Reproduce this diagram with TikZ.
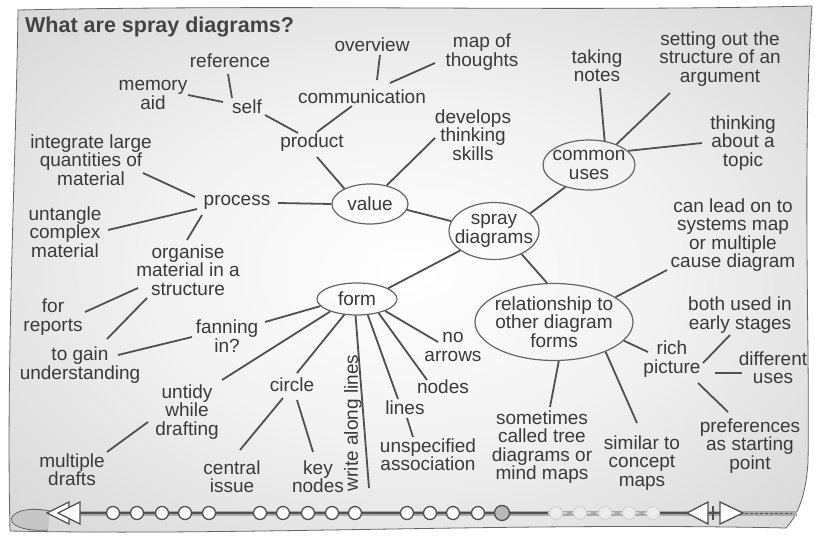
\documentclass[tikz,border=0pt]{standalone}
\usepackage{fontspec}
\setmainfont{Liberation Sans}
\usetikzlibrary{shapes.geometric}

\definecolor{ink}{HTML}{3A3A3A}
\definecolor{wire}{HTML}{505050}
\definecolor{rim}{HTML}{666666}
\definecolor{sheetmid}{HTML}{F2F2F2}
\definecolor{sheetout}{HTML}{CDCDCD}
\definecolor{sheetrim}{HTML}{B2B2B2}
\definecolor{barhalo}{HTML}{A9A9A9}
\definecolor{fadefill}{HTML}{ECECEC}
\definecolor{fadeline}{HTML}{D2D2D2}

% paper: white in the middle, greying towards the rim
\pgfdeclareradialshading{sheetshade}{\pgfpoint{0bp}{0bp}}{color(0bp)=(white); color(16bp)=(sheetmid); color(42bp)=(sheetout); color(58bp)=(sheetrim); color(75bp)=(sheetrim)}

\tikzset{
  lbl/.style={font=\fontsize{19}{18.3}\selectfont, text=ink, align=center, inner sep=1pt},
  bubble/.style={lbl, ellipse, draw=rim, line width=1.2pt, inner ysep=0pt},
  link/.style={draw=wire, line width=1.8pt},
  headline/.style={font=\fontsize{21.5}{24}\selectfont\bfseries, text=ink!95!white, inner sep=0pt},
  bead/.style={circle, draw=wire, line width=1.3pt, fill=white, minimum size=13pt, inner sep=0pt},
  fadebead/.style={circle, draw=fadeline, line width=1pt, fill=fadefill, minimum size=13pt, inner sep=0pt},
  tri/.style={draw=wire, line width=1.3pt, fill=white, line join=miter}
}

\begin{document}
\begin{tikzpicture}[x=1pt, y=-1pt]
\useasboundingbox (0,0) rectangle (815,540);

% the sheet of paper
\shade[shading=sheetshade, draw=rim, line width=0.8pt]
  (18,10) .. controls (300,4) and (560,12) .. (812,6)
  .. controls (802,150) and (810,350) .. (808,462)
  .. controls (806,495) and (798,515) .. (786,528)
  .. controls (520,522) and (240,536) .. (10,531)
  .. controls (6,360) and (16,160) .. (18,10) -- cycle;
% curl at the lower left corner
\draw[rim, fill=gray!45, line width=0.8pt]
  (50,511) .. controls (26,506) and (8,513) .. (12,522)
  .. controls (17,530) and (38,531) .. (48,530);

\node[headline, anchor=base west] (title) at (25,33) {What are spray diagrams?};

% ---- nodes ----
\node[lbl] (reference) at (230,61) {reference};
\node[lbl] (memory) at (153,95) {memory\\aid};
\node[lbl] (self) at (247,107) {self};
\node[lbl] (overview) at (372,45) {overview};
\node[lbl] (communication) at (362,97) {communication};
\node[lbl] (mapof) at (482,52) {map of\\thoughts};
\node[lbl] (product) at (312,143) {product};
\node[lbl] (develops) at (473,135) {develops\\thinking\\skills};
\node[lbl] (taking) at (597,66) {taking\\notes};
\node[lbl] (setting) at (720,59) {setting out the\\structure of an\\argument};
\node[bubble, minimum width=92pt, minimum height=50pt, inner xsep=-6pt] (common) at (589,165) {common\\uses};
\node[lbl] (thinking) at (743,143) {thinking\\about a\\topic};
\node[lbl] (integrate) at (91,160) {integrate large\\quantities of\\material};
\node[lbl] (process) at (237,202) {process};
\node[bubble, minimum width=76pt, minimum height=40pt] (value) at (370,204) {value};
\node[lbl] (untangle) at (65,232) {untangle\\complex\\material};
\node[bubble, minimum width=90pt, minimum height=57pt, inner xsep=-8pt] (spray) at (494,231) {spray\\diagrams};
\node[lbl] (organise) at (188,270) {organise\\material in a\\structure};
\node[lbl] (canlead) at (733,235) {can lead on to\\systems map\\or multiple\\cause diagram};
\node[bubble, minimum width=80pt, minimum height=32pt] (form) at (357,299) {form};
\node[lbl] (reports) at (53,317) {for\\reports};
\node[lbl] (fanning) at (227,336) {fanning\\in?};
\node[bubble, minimum width=158pt, minimum height=77pt, inner xsep=-5pt] (relation) at (554,322) {relationship to\\other diagram\\forms};
\node[lbl] (both) at (740,315) {both used in\\early stages};
\node[lbl] (noarrows) at (453,347) {no\\arrows};
\node[lbl] (rich) at (672,359) {rich\\picture};
\node[lbl] (gain) at (80,365) {to gain\\understanding};
\node[lbl] (different) at (773,368) {different\\uses};
\node[lbl] (nCircle) at (292,385) {circle};
\node[lbl] (nNodes) at (443,387) {nodes};
\node[lbl] (untidy) at (187,412) {untidy\\while\\drafting};
\node[lbl] (nLines) at (405,408) {lines};
\node[lbl, rotate=90] (write) at (353,423) {write along lines};
\node[lbl] (sometimes) at (542,447) {sometimes\\called tree\\diagrams or\\mind maps};
\node[lbl] (unspecified) at (428,455) {unspecified\\association};
\node[lbl] (similar) at (642,463) {similar to\\concept\\maps};
\node[lbl] (preferences) at (750,446) {preferences\\as starting\\point};
\node[lbl] (multiple) at (72,470) {multiple\\drafts};
\node[lbl] (central) at (232,477) {central\\issue};
\node[lbl] (key) at (318,477) {key\\nodes};

% ---- connectors ----
\draw[link] ([shift={(35,0)}]memory.center) -- ([shift={(-24,-5)}]self.center);
\draw[link] ([shift={(-2,13)}]reference.center) -- ([shift={(-15,-9)}]self.center);
\draw[link] ([shift={(18,8)}]self.center) -- ([shift={(-14,-10)}]product.center);
\draw[link] ([shift={(-10,9)}]communication.center) -- ([shift={(5,-11)}]product.center);
\draw[link] ([shift={(8,10)}]overview.center) -- ([shift={(15,-17)}]communication.center);
\draw[link] ([shift={(-47,11)}]mapof.center) -- ([shift={(28,-14)}]communication.center);
\draw[link] ([shift={(5,14)}]product.center) -- (value.149);
\draw[link] ([shift={(-38,3)}]develops.center) -- (value.48);
\draw[link] ([shift={(52,13)}]integrate.center) -- ([shift={(-42,-5)}]process.center);
\draw[link] ([shift={(41,1)}]process.center) -- (value.180);
\draw[link] ([shift={(43,-2)}]untangle.center) -- ([shift={(-40,7)}]process.center);
\draw[link] ([shift={(-35,13)}]process.center) -- ([shift={(-1,-30)}]organise.center);
\draw[link] (value.-9) -- (spray.167);
\draw[link] (common.223) -- (spray.26);
\draw[link] ([shift={(3,22)}]taking.center) -- (common.57);
\draw[link] ([shift={(-50,34)}]setting.center) -- (common.37);
\draw[link] ([shift={(-41,0)}]thinking.center) -- (common.20);
\draw[link] (spray.-40) -- (relation.100);
\draw[link] (form.19) -- (spray.210);
\draw[link] ([shift={(-50,18)}]organise.center) -- ([shift={(32,-5)}]reports.center);
\draw[link] ([shift={(-41,28)}]organise.center) -- ([shift={(27,-26)}]gain.center);
\draw[link] ([shift={(38,-10)}]gain.center) -- ([shift={(-35,1)}]fanning.center);
\draw[link] ([shift={(38,-14)}]fanning.center) -- (form.191);
\draw[link] (form.205) -- ([shift={(35,-32)}]untidy.center);
\draw[link] (form.231) -- ([shift={(5,-12)}]nCircle.center);
\draw[link] (form.265) -- ([shift={(16,65)}]write.center);
\draw[link] (form.304) -- ([shift={(-7,-9)}]nLines.center);
\draw[link] (form.327) -- ([shift={(-16,-7)}]nNodes.center);
\draw[link] (form.337) -- ([shift={(-15,-5)}]noarrows.center);
\draw[link] ([shift={(2,10)}]nLines.center) -- ([shift={(-15,-18)}]unspecified.center);
\draw[link] ([shift={(-39,10)}]untidy.center) -- ([shift={(35,-18)}]multiple.center);
\draw[link] ([shift={(-9,13)}]nCircle.center) -- ([shift={(8,-27)}]central.center);
\draw[link] ([shift={(5,15)}]nCircle.center) -- ([shift={(-5,-25)}]key.center);
\draw[link] (relation.22) -- ([shift={(-66,35)}]canlead.center);
\draw[link] (relation.345) -- ([shift={(-24,-7)}]rich.center);
\draw[link] ([shift={(31,4)}]rich.center) -- ([shift={(-10,20)}]both.center);
\draw[link] ([shift={(43,14)}]rich.center) -- ([shift={(-31,5)}]different.center);
\draw[link] ([shift={(26,24)}]rich.center) -- ([shift={(-22,-34)}]preferences.center);
\draw[link] (relation.277) -- ([shift={(8,-40)}]sometimes.center);
\draw[link] (relation.330) -- ([shift={(-5,-40)}]similar.center);

% ---- progress bar along the foot ----
\draw[line width=5pt, barhalo] (78,513) -- (797,513);
\draw[line width=2pt, wire] (80,513) -- (548,513);
\draw[line width=2.5pt, fadeline, dash pattern=on 7pt off 5pt] (548,513) -- (660,513);
\draw[line width=2pt, wire] (660,513) -- (688,513);
\draw[line width=2pt, wire] (708,513) -- (720,513);
\draw[line width=1pt, wire, dash pattern=on 3pt off 2pt] (745,513) -- (792,513);

\foreach \i/\x in {1/113,2/137,3/162,4/185,5/209,6/260,7/283,8/308,9/332,10/355,11/407,12/430,13/453,14/478}
  \node[bead] (b\i) at (\x,513) {};
\node[bead, fill=gray!55, minimum size=15pt] (b15) at (502,513) {};
\foreach \i/\x in {1/556,2/580,3/605,4/629,5/653}
  \node[fadebead] (f\i) at (\x,513) {};

% rewind arrows on the left
\draw[tri] (47,513) -- (69,502) -- (69,524) -- cycle;
\draw[tri] (58,513) -- (80,502) -- (80,524) -- cycle;
% play / back pair on the right
\draw[tri] (687,513) -- (708,502) -- (708,524) -- cycle;
\draw[line width=1.6pt, wire] (713,506) -- (713,520);
\draw[tri] (743,513) -- (720,502) -- (720,524) -- cycle;
\end{tikzpicture}
\end{document}
